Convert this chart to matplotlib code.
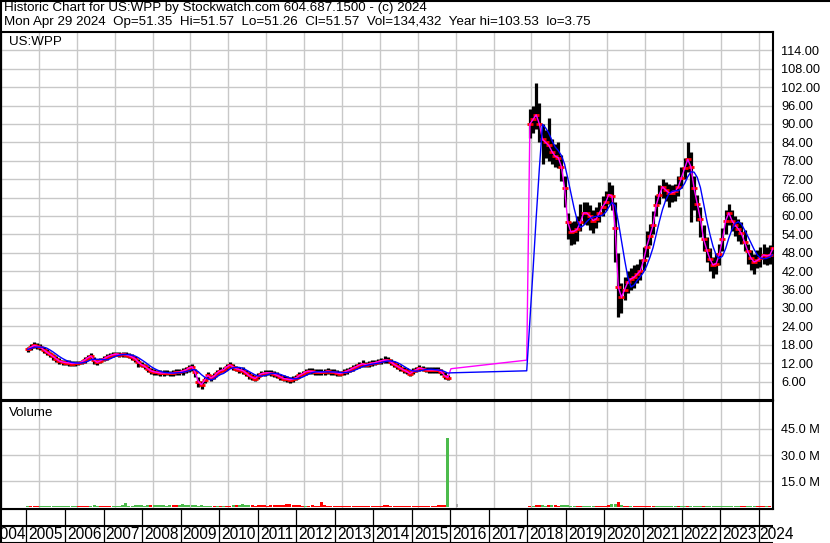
import numpy as np
import pandas as pd
import matplotlib
matplotlib.use("Agg")
import matplotlib.pyplot as plt

plt.rcParams['font.family'] = ['Liberation Sans', 'DejaVu Sans']

symbol = "US:WPP"
title_line1 = "Historic Chart for US:WPP by Stockwatch.com 604.687.1500 - (c) 2024"
title_line2 = ("Mon Apr 29 2024  Op=51.35  Hi=51.57  Lo=51.26  Cl=51.57  "
               "Vol=134,432  Year hi=103.53  lo=3.75")

# first block of monthly bars: 2004-09 .. 2015-10
early_start = "2004-09"
early_close = [16.5, 17.2, 17.8, 17.5,
               17.2, 16.4, 15.6, 14.9, 14.2, 13.4, 12.7, 12.4, 12.2, 12.1, 11.9, 12.0,
               12.0, 12.4, 13.0, 13.8, 14.3, 13.0, 12.3, 12.8, 13.4, 14.0, 14.5, 14.8,
               15.0, 14.8, 14.9, 14.8, 14.5, 14.0, 13.4, 12.3, 11.5, 11.0, 10.2, 9.5,
               9.2, 9.0, 8.8, 8.8, 8.9, 8.7, 8.8, 9.0, 9.1, 9.4, 9.8, 10.4,
               10.8, 9.0, 6.0, 5.0, 6.5, 8.0, 7.2, 7.8, 8.9, 9.6, 9.9, 10.8,
               11.4, 10.8, 10.2, 9.9, 9.6, 8.9, 8.0, 7.4, 7.0, 7.9, 8.6, 8.8,
               8.9, 8.8, 8.5, 8.0, 7.5, 7.0, 6.8, 6.6, 6.8, 7.3, 8.0, 8.6,
               9.2, 9.4, 9.3, 9.2, 9.1, 9.0, 9.2, 9.4, 9.2, 9.0, 8.8, 8.6,
               9.0, 9.4, 9.9, 10.4, 10.9, 11.4, 11.8, 11.5, 11.7, 12.0, 12.2, 12.5,
               12.8, 13.0, 13.0, 12.4, 11.6, 11.0, 10.4, 9.8, 9.3, 8.6, 9.3, 9.9,
               10.4, 10.2, 9.9, 9.8, 9.8, 9.8, 9.7, 9.2, 7.9, 7.3]
early_high = [17.4, 18.1, 18.9, 18.5,
              18.1, 17.3, 16.5, 15.8, 15.1, 14.4, 13.6, 13.2, 13.0, 12.9, 12.7, 12.8,
              12.8, 13.2, 13.9, 14.8, 15.2, 14.0, 13.1, 13.7, 14.3, 15.0, 15.4, 15.6,
              15.8, 15.6, 15.7, 15.6, 15.3, 14.9, 14.3, 13.4, 12.4, 11.9, 11.2, 10.5,
              10.1, 9.9, 9.7, 9.7, 9.8, 9.6, 9.8, 10.0, 10.1, 10.4, 10.8, 11.4,
              11.7, 10.2, 7.4, 6.2, 7.6, 9.0, 8.1, 8.8, 9.8, 10.6, 10.8, 11.8,
              12.4, 11.8, 11.2, 10.9, 10.6, 9.9, 9.0, 8.4, 8.0, 8.9, 9.6, 9.8,
              9.9, 9.8, 9.5, 9.0, 8.5, 8.0, 7.8, 7.6, 7.8, 8.3, 9.0, 9.6,
              10.1, 10.4, 10.3, 10.2, 10.1, 10.0, 10.2, 10.4, 10.2, 10.0, 9.8, 9.6,
              10.0, 10.4, 10.9, 11.4, 11.9, 12.4, 12.9, 12.5, 12.7, 13.0, 13.2, 13.5,
              13.8, 14.2, 14.0, 13.4, 12.6, 12.0, 11.4, 10.8, 10.3, 9.6, 10.3, 10.9,
              11.4, 11.2, 10.9, 10.8, 10.8, 10.8, 10.7, 10.2, 9.0, 8.2]
early_low = [15.6, 16.3, 16.9, 16.6,
             16.2, 15.4, 14.7, 13.9, 13.2, 12.4, 11.8, 11.5, 11.3, 11.2, 11.0, 11.2,
             11.3, 11.7, 12.2, 13.0, 13.3, 11.9, 11.4, 12.0, 12.6, 13.2, 13.7, 14.0,
             14.2, 14.0, 14.1, 14.0, 13.6, 13.1, 12.5, 10.6, 10.6, 10.1, 9.2, 8.6,
             8.3, 8.1, 7.9, 7.9, 8.0, 7.8, 7.9, 8.1, 8.0, 8.3, 8.7, 9.2,
             9.6, 7.6, 4.4, 3.75, 5.4, 6.9, 6.2, 6.9, 8.0, 8.7, 9.0, 9.9,
             10.5, 9.8, 9.3, 8.9, 8.6, 7.9, 7.0, 6.5, 6.1, 7.0, 7.7, 7.9,
             8.0, 7.9, 7.6, 7.1, 6.6, 6.1, 5.9, 5.7, 5.9, 6.4, 7.1, 7.7,
             8.2, 8.5, 8.4, 8.3, 8.2, 8.1, 8.3, 8.5, 8.3, 8.1, 7.9, 7.7,
             8.1, 8.5, 9.0, 9.5, 10.0, 10.5, 10.9, 10.6, 10.8, 11.1, 11.3, 11.6,
             11.9, 12.1, 12.1, 11.5, 10.7, 10.1, 9.5, 8.9, 8.4, 7.7, 8.4, 9.0,
             9.5, 9.3, 9.0, 8.9, 8.9, 8.9, 8.8, 8.3, 7.0, 6.4]
early_vol = [0.5, 0.6, 0.5, 0.6,
             0.6, 0.7, 0.6, 0.6, 0.8, 0.7, 0.6, 0.7, 0.8, 0.7, 0.6, 0.7,
             0.8, 0.7, 0.9, 1.0, 0.8, 1.2, 0.9, 0.8, 0.7, 0.9, 0.8, 0.9,
             1.0, 0.9, 1.1, 2.6, 1.0, 0.9, 1.2, 1.4, 1.1, 1.0, 1.2, 1.1,
             1.3, 1.2, 1.4, 1.1, 1.0, 1.3, 1.2, 1.5, 1.3, 1.6, 1.4, 1.2,
             1.1, 1.3, 1.0, 1.2, 0.9, 1.0, 0.8, 0.9, 1.0, 0.8, 0.9, 0.8,
             1.0, 1.1, 1.2, 1.4, 1.6, 1.3, 1.2, 1.1, 1.0, 1.2, 1.3, 1.1,
             1.0, 1.2, 1.1, 1.3, 1.5, 1.2, 2.0, 1.6, 1.4, 1.2, 1.1, 1.0,
             0.9, 1.0, 1.1, 0.9, 1.0, 2.8, 1.2, 0.9, 0.8, 1.0, 0.9, 0.8,
             0.8, 0.9, 0.8, 1.0, 0.9, 0.8, 0.9, 1.0, 0.8, 0.9, 0.8, 0.9,
             1.0, 1.1, 1.3, 0.9, 1.0, 0.8, 0.9, 1.0, 0.8, 0.9, 1.0, 0.8,
             0.9, 0.8, 1.0, 0.9, 0.8, 1.0, 1.2, 1.3, 1.4, 40.0]

# second block of monthly bars: 2017-12 .. 2024-05 (chart time)
late_start = "2017-12"
late_close = [90.0, 91.5, 93.0, 90.0, 85.0, 84.0, 83.0, 81.0, 79.5, 79.0, 76.0, 69.0,
              58.0, 54.8, 55.0, 55.7, 58.0, 61.0, 61.0, 60.0, 58.5, 59.0, 61.0, 63.0,
              64.5, 67.0, 66.5, 56.0, 36.8, 33.5, 36.0, 38.4, 39.5, 40.0, 41.1, 42.2,
              45.5, 50.0, 53.5, 57.0, 63.5, 67.0, 69.5, 68.5, 67.6, 67.6, 68.0, 69.5,
              72.5, 75.5, 78.5, 76.0, 69.0, 64.0, 59.0, 52.5, 49.0, 46.0, 44.0, 44.5,
              47.5, 52.5, 58.5, 61.0, 58.5, 57.0, 55.8, 54.3, 51.5, 48.5, 46.3, 45.0,
              45.5, 46.2, 47.3, 47.0, 47.3, 49.5]
late_high = [95.0, 96.0, 103.5, 97.0, 90.0, 88.0, 92.0, 85.0, 83.5, 84.0, 80.0, 73.0,
             61.0, 58.0, 58.5, 60.0, 64.0, 64.5, 64.5, 63.5, 62.0, 63.0, 64.5, 66.5,
             68.0, 71.0, 70.0, 64.5, 48.0, 38.0, 40.0, 42.0, 43.0, 44.0, 44.5, 46.0,
             50.0, 55.0, 57.5, 61.5, 67.0, 70.0, 72.0, 71.0, 70.5, 70.0, 70.5, 73.0,
             76.0, 79.0, 84.0, 81.0, 73.0, 67.0, 63.0, 57.0, 53.0, 49.5, 46.5, 48.0,
             51.0, 56.0, 62.0, 64.0, 62.0, 60.0, 59.0, 58.0, 55.5, 51.0, 49.0, 47.5,
             49.0, 50.0, 51.0, 50.0, 50.5, 52.0]
late_low = [85.5, 87.0, 88.5, 84.0, 77.0, 79.0, 78.0, 77.0, 76.0, 75.5, 71.5, 63.0,
            52.5, 50.5, 51.0, 52.0, 55.0, 57.5, 57.0, 55.5, 54.5, 56.0, 58.0, 60.0,
            62.0, 64.0, 62.0, 45.0, 27.2, 28.5, 32.5, 35.0, 36.0, 36.5, 38.0, 39.0,
            42.5, 46.5, 50.5, 54.0, 60.0, 64.0, 66.0, 65.0, 63.0, 64.5, 65.0, 66.5,
            69.0, 72.0, 74.5, 58.0, 62.0, 58.5, 53.0, 48.5, 45.0, 42.0, 39.8, 41.0,
            44.0, 48.5, 54.0, 57.0, 55.0, 53.5, 52.0, 51.0, 48.5, 44.5, 42.5, 41.2,
            43.0, 43.5, 44.5, 44.0, 44.5, 47.0]
late_vol = [0.9, 1.0, 1.2, 1.1, 1.3, 1.0, 1.4, 1.1, 1.2, 1.0, 1.1, 1.3,
            1.2, 1.0, 0.9, 0.8, 0.9, 0.8, 0.7, 0.8, 0.9, 0.8, 0.7, 0.8,
            0.9, 1.1, 1.6, 2.0, 3.2, 1.5, 1.0, 0.9, 0.8, 0.8, 0.7, 0.8,
            0.7, 0.6, 0.7, 0.6, 0.7, 0.6, 0.6, 0.7, 0.6, 0.6, 0.7, 0.6,
            0.6, 0.7, 0.8, 0.9, 0.8, 0.7, 0.8, 0.7, 0.8, 0.7, 0.6, 0.7,
            0.6, 0.7, 0.6, 0.7, 0.6, 0.6, 0.7, 0.6, 0.7, 0.8, 0.7, 0.6,
            0.6, 0.7, 0.6, 0.7, 0.8, 0.9]

# averages carried across the missing stretch, and the lone grey volume bar
gap_months = ["2015-11", "2017-11"]
gap_avg = [10.2, 13.0]
gap_vol_month = "2016-01"
gap_vol = 2.0

price_ticks = list(range(6, 115, 6))
vol_ticks = [15, 30, 45]
year_labels = list(range(2004, 2025))


def month_pos(months):
    per = pd.PeriodIndex(months, freq="M")
    return np.asarray(per.year + (per.month - 0.5) / 12.0)


def block(start, close, high, low, vol):
    per = pd.period_range(start, periods=len(close), freq="M")
    df = pd.DataFrame({"t": np.asarray(per.year + (per.month - 0.5) / 12.0),
                       "close": close, "high": high, "low": low, "vol": vol})
    # volume colour: green when the month closed in the upper half of its range
    df["up"] = df["close"] >= (df["high"] + df["low"]) / 2
    return df


early = block(early_start, early_close, early_high, early_low, early_vol)
late = block(late_start, late_close, late_high, late_low, late_vol)
bars = pd.concat([early, late], ignore_index=True)

fast = pd.concat([early[["t", "close"]],
                  pd.DataFrame({"t": month_pos(gap_months), "close": gap_avg}),
                  late[["t", "close"]]], ignore_index=True)
fast["slow"] = fast["close"].rolling(5, min_periods=1).mean()

W, H = 830, 543
fig = plt.figure(figsize=(W / 100, H / 100), dpi=100)

x0, x1 = 1, 773
xlim = (2005 + (x0 - 26.5) / 38.53, 2005 + (x1 - 26.5) / 38.53)


def px_axes(left, top, right, bottom):
    return fig.add_axes([left / W, 1 - bottom / H, (right - left) / W, (bottom - top) / H])


grid_c = "#c8c8c8"
fs = 9.6

# price panel
ax = px_axes(x0, 32, x1, 400)
ax.set_xlim(*xlim)
ax.set_ylim(0, 120)
ax.set_xticks(year_labels)
ax.set_yticks(price_ticks)
ax.set_yticklabels([f"{v:.2f}" for v in price_ticks])
ax.yaxis.tick_right()
ax.tick_params(axis="y", length=0, pad=6, labelsize=9.2)
ax.tick_params(axis="x", length=0, labelbottom=False)
ax.grid(True, color=grid_c, lw=1.0)
ax.set_axisbelow(True)
ax.vlines(bars["t"], bars["low"], bars["high"], color="black", lw=2.3, zorder=2)
ax.plot(bars["t"], bars["close"], ls="none", marker="_", ms=4.0, mew=2.0,
        color="red", zorder=3)
ax.plot(fast["t"], fast["close"], color="#ff00ff", lw=1.0, zorder=4)
ax.plot(fast["t"], fast["slow"], color="#0000ff", lw=1.0, zorder=5)
ax.text(8 / (x1 - x0), 1 - 10 / 368, symbol, transform=ax.transAxes,
        fontsize=fs, va="center", ha="left")

# volume panel
av = px_axes(x0, 401, x1, 509)
av.set_xlim(*xlim)
av.set_ylim(-1.0, 61.0)
av.set_xticks(year_labels)
av.set_yticks(vol_ticks)
av.set_yticklabels([f"{v:.1f} M" for v in vol_ticks])
av.yaxis.tick_right()
av.tick_params(axis="y", length=0, pad=6, labelsize=9.2)
av.tick_params(axis="x", length=0, labelbottom=False)
av.grid(True, color=grid_c, lw=1.0)
av.set_axisbelow(True)
vcol = np.where(bars["up"], "#4cbb4c", "#ff0000")
av.bar(bars["t"], bars["vol"], width=0.95 / 12, color=vcol, zorder=2)
av.bar(month_pos([gap_vol_month]), [gap_vol], width=0.7 / 12, color="#aaaaaa", zorder=2)
av.text(8 / (x1 - x0), 1 - 12 / 108, "Volume", transform=av.transAxes,
        fontsize=fs, va="center", ha="left")

for a in (ax, av):
    for s in a.spines.values():
        s.set_color("black")
        s.set_linewidth(1.5)

# date strip
ad = px_axes(x0, 509, x1, 543)
ad.set_xlim(*xlim)
ad.set_ylim(0, 1)
ad.axis("off")
ad.axhline(1.0, color="black", lw=1.5)
ad.axhline(0.5, color="black", lw=1.5)
ad.axhline(0.0, color="black", lw=1.5)
for yr in year_labels[1:]:
    ad.axvline(yr, color="black", lw=0.9)
    if yr < 2024:
        ad.text(yr + 0.5, 0.24, str(yr), ha="center", va="center", fontsize=11.2)
ad.text(2004.98, 0.24, "2004", ha="right", va="center", fontsize=11.2)
ad.text(2024.01, 0.24, "2024", ha="left", va="center", fontsize=11.2, clip_on=False)

# header
fig.text(4 / W, 1 - 7.5 / H, title_line1, fontsize=fs, va="center", ha="left")
fig.text(4 / W, 1 - 22.5 / H, title_line2, fontsize=fs, va="center", ha="left")
fig.add_artist(plt.Line2D([0, 1], [1 - 0.5 / H, 1 - 0.5 / H], color="black", lw=1.5))
fig.add_artist(plt.Line2D([0.5 / W, 0.5 / W], [0, 1], color="black", lw=1.5))

fig.savefig("out.png", dpi=100)
